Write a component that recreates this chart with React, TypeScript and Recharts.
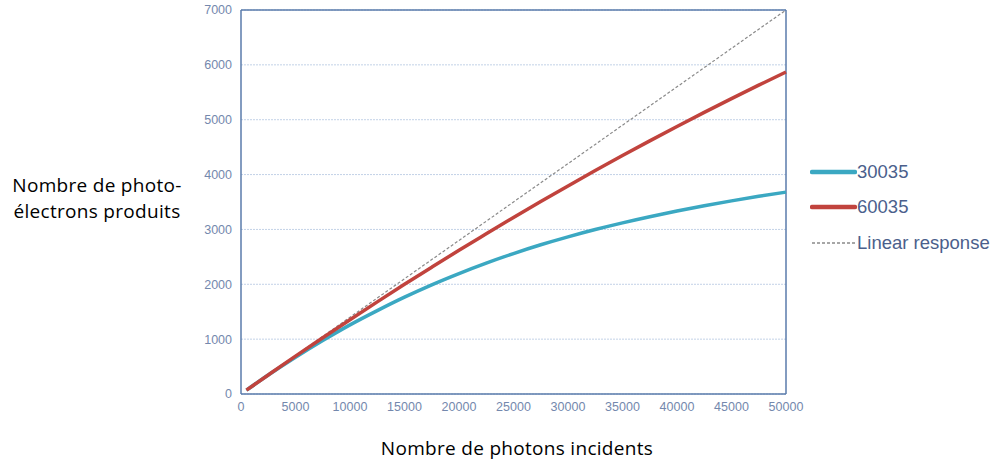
import React from "react";
import {
  LineChart,
  Line,
  XAxis,
  YAxis,
  CartesianGrid,
  ReferenceLine,
} from "recharts";

// photons incidents
const photons = [
  500, 2500, 5000, 7500, 10000, 12500, 15000, 17500, 20000, 22500, 25000,
  27500, 30000, 32500, 35000, 37500, 40000, 42500, 45000, 47500, 50000,
];
// photo-électrons, capteur 30035
const s30035 = [
  70, 345, 670, 975, 1260, 1520, 1765, 1990, 2195, 2385, 2560, 2720, 2865,
  2998, 3120, 3232, 3336, 3432, 3521, 3603, 3680,
];
// photo-électrons, capteur 60035
const s60035 = [
  70, 347, 690, 1025, 1355, 1680, 2000, 2312, 2620, 2920, 3218, 3508, 3793,
  4073, 4346, 4614, 4877, 5133, 5385, 5630, 5870,
];
// réponse linéaire
const linear = [
  70, 350, 700, 1050, 1400, 1750, 2100, 2450, 2800, 3150, 3500, 3850, 4200,
  4550, 4900, 5250, 5600, 5950, 6300, 6650, 7000,
];

const xTicks = [0, 5000, 10000, 15000, 20000, 25000, 30000, 35000, 40000, 45000, 50000];
const yTicks = [0, 1000, 2000, 3000, 4000, 5000, 6000, 7000];

const data = photons.map((p, i) => ({
  x: p,
  a: s30035[i],
  b: s60035[i],
  lin: linear[i],
}));

const AXIS = "#5a7bab";
const TICK = "#7488ad";
const CYAN = "#3ba8c2";
const RED = "#c1433d";

export default function App() {
  const tickStyle = { fill: TICK, fontSize: 12.5, fontFamily: "Liberation Sans, Arial, sans-serif" };
  return (
    <div style={{ position: "absolute", left: 0, top: 0, width: 997, height: 465, background: "#fff" }}>
      <LineChart
        width={997}
        height={465}
        data={data}
        margin={{ top: 10, right: 211, bottom: 0, left: 181 }}
      >
        <CartesianGrid
          horizontal
          vertical={false}
          stroke="#c3d2e7"
          strokeDasharray="2 1"
        />
        <XAxis
          dataKey="x"
          type="number"
          domain={[0, 50000]}
          ticks={xTicks}
          tick={tickStyle}
          tickSize={0}
          tickMargin={8}
          height={71}
          stroke={AXIS}
          strokeWidth={1.5}
        />
        <YAxis
          type="number"
          domain={[0, 7000]}
          ticks={yTicks}
          tick={tickStyle}
          tickSize={0}
          tickMargin={9}
          width={60}
          stroke={AXIS}
          strokeWidth={1.5}
        />
        <ReferenceLine y={7000} stroke={AXIS} strokeWidth={1.5} />
        <ReferenceLine x={50000} stroke={AXIS} strokeWidth={1.5} />
        <Line
          type="monotone"
          dataKey="lin"
          stroke="#8a8a8a"
          strokeWidth={1.2}
          strokeDasharray="3 2"
          dot={false}
          isAnimationActive={false}
        />
        <Line
          type="monotone"
          dataKey="a"
          stroke={CYAN}
          strokeWidth={3.5}
          dot={false}
          isAnimationActive={false}
        />
        <Line
          type="monotone"
          dataKey="b"
          stroke={RED}
          strokeWidth={3.5}
          dot={false}
          isAnimationActive={false}
        />
      </LineChart>

      {/* titre de l'axe Y */}
      <div
        style={{
          position: "absolute",
          left: 8,
          width: 178,
          top: 172,
          fontFamily: "Open Sans, sans-serif",
          fontSize: 19,
          letterSpacing: 0.3,
          lineHeight: "26px",
          color: "#000",
          textAlign: "center",
          whiteSpace: "nowrap",
        }}
      >
        Nombre de photo-
        <br />
        électrons produits
      </div>

      {/* titre de l'axe X */}
      <div
        style={{
          position: "absolute",
          left: 0,
          width: 1034,
          top: 435,
          fontFamily: "Open Sans, sans-serif",
          fontSize: 19,
          letterSpacing: 0.3,
          color: "#000",
          textAlign: "center",
        }}
      >
        Nombre de photons incidents
      </div>

      {/* légende */}
      <div
        style={{
          position: "absolute",
          left: 810,
          top: 154,
          fontFamily: "Liberation Sans, Arial, sans-serif",
          fontSize: 18.5,
          color: "#4b5f8c",
        }}
      >
        {[
          { name: "30035", color: CYAN, w: 4.5, dash: undefined },
          { name: "60035", color: RED, w: 4.5, dash: undefined },
          { name: "Linear response", color: "#8a8a8a", w: 1.5, dash: "3 2" },
        ].map((it) => (
          <div key={it.name} style={{ display: "flex", alignItems: "center", height: 35.5 }}>
            <svg width={47} height={10}>
              <line
                x1={2}
                x2={45}
                y1={5}
                y2={5}
                stroke={it.color}
                strokeWidth={it.w}
                strokeLinecap={it.dash ? "butt" : "round"}
                strokeDasharray={it.dash}
              />
            </svg>
            <span>{it.name}</span>
          </div>
        ))}
      </div>
    </div>
  );
}
